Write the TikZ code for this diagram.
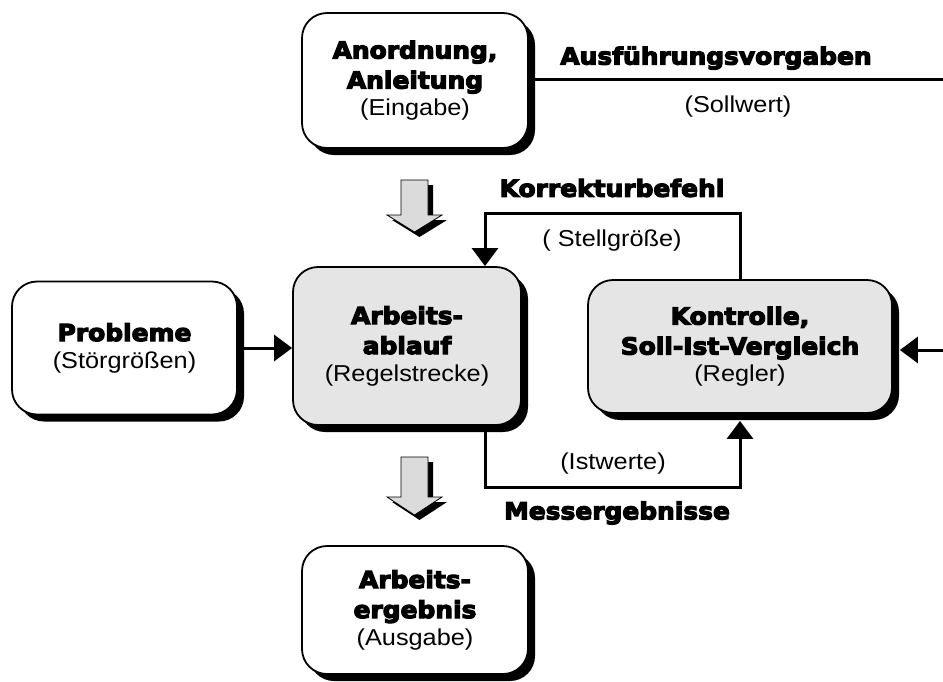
\documentclass[tikz,border=0pt]{standalone}
\usepackage{fontspec}
\usetikzlibrary{shadows,arrows.meta}
\newfontfamily\hvy[FakeBold=5,FakeStretch=1.06]{DejaVu Sans Bold}
\newfontfamily\subf[FakeStretch=1.1]{Liberation Sans}
\newcommand{\ttl}{\hvy\fontsize{23.5}{30}\selectfont}
\newcommand{\sbt}{\subf\fontsize{23}{26}\selectfont}
\tikzset{
  box/.style={draw=black, line width=1.8pt, rounded corners=25pt,
    general shadow={fill=black, shadow xshift=7pt, shadow yshift=-7pt},
    align=center, inner sep=0pt, font=\ttl},
  whitebox/.style={box, fill=white},
  graybox/.style={box, fill=gray!20},
  conn/.style={line width=3pt, -{Triangle[length=18pt,width=26pt]}},
  plain/.style={line width=3pt},
  blockarrow/.style={draw=black, line width=0.8pt, fill=gray!28,
    general shadow={fill=black, shadow xshift=5pt, shadow yshift=-5pt}},
  heading/.style={font=\ttl, inner sep=0pt},
  subhead/.style={font=\sbt, inner sep=0pt}
}
\begin{document}
\begin{tikzpicture}[x=1pt,y=-1pt]
\useasboundingbox (0,0) rectangle (943,681);

% boxes
\node[whitebox, minimum width=226pt, minimum height=135pt] (anord) at (415,80.5)
  {Anordnung,\\Anleitung\\[-3pt]\sbt (Eingabe)};
\node[whitebox, minimum width=225pt, minimum height=133pt] (probl) at (124.5,348)
  {Probleme\\[-3pt]\sbt (Störgrößen)};
\node[graybox, minimum width=228pt, minimum height=158pt] (arbeit) at (407,346)
  {Arbeits-\\ablauf\\[-3pt]\sbt (Regelstrecke)};
\node[graybox, minimum width=304pt, minimum height=133pt] (kontr) at (740,346.5)
  {Kontrolle,\\Soll-Ist-Vergleich\\[-3pt]\sbt (Regler)};
\node[whitebox, minimum width=226pt, minimum height=128pt] (ergeb) at (415,610)
  {Arbeits-\\ergebnis\\[-3pt]\sbt (Ausgabe)};

% block arrows
\path[blockarrow] (401,180) -- (428,180) -- (428,215) -- (442,215) -- (414.5,232)
  -- (387,215) -- (401,215) -- cycle;
\path[blockarrow] (401,457) -- (428,457) -- (428,497) -- (442,497) -- (414.5,515)
  -- (387,497) -- (401,497) -- cycle;

% coordinates
\coordinate (sollend) at (943,79);
\coordinate (rin) at (943,350);
\coordinate (kk) at (485,213);
\coordinate (mm) at (485,487);

% connectors
\draw[plain] (anord.east |- sollend) -- (sollend);
\draw[conn] (rin) -- ([xshift=7pt]kontr.east |- rin);
\draw[conn] (probl.east) -- (arbeit.west |- probl.east);
\draw[conn] (kontr.north) |- (kk) -- (kk |- arbeit.north);
\draw[conn] (mm |- arbeit.south) -- (mm) -| ([yshift=-7pt]kontr.south);

% labels
\node[heading] (l1) at (716,58) {Ausführungsvorgaben};
\node[subhead] (l2) at (738,107) {(Sollwert)};
\node[heading] (l3) at (612,188) {Korrekturbefehl};
\node[subhead] (l4) at (612,241) {( Stellgröße)};
\node[subhead] (l5) at (613,464) {(Istwerte)};
\node[heading] (l6) at (617,513) {Messergebnisse};
\end{tikzpicture}
\end{document}
